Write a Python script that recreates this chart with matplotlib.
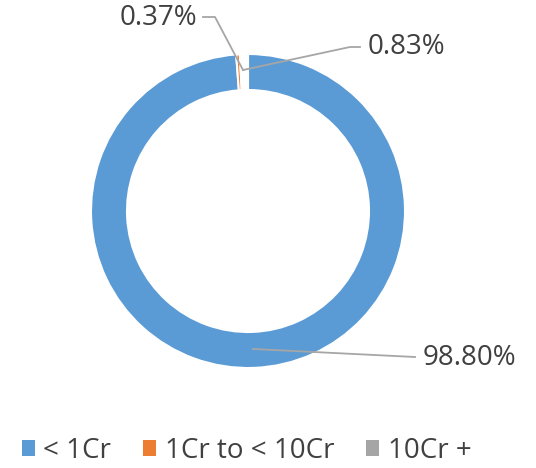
import matplotlib
matplotlib.use("Agg")
import matplotlib.pyplot as plt
from matplotlib.patches import Patch
import numpy as np

categories = ["< 1Cr", "1Cr to < 10Cr", "10Cr +"]
values = [98.80, 0.37, 0.83]
labels = ["98.80%", "0.37%", "0.83%"]
legend_colors = ["#5B9BD5", "#ED7D31", "#A5A5A5"]
slice_colors = ["#5B9BD5", "#ED7D31", "#FFFFFF"]

W, H = 536, 468
fig = plt.figure(figsize=(W / 100, H / 100), dpi=100)
ax = fig.add_axes([0, 0, 1, 1])

cx, cy, R = 248, H - 211, 157
wedges, _ = ax.pie(values, colors=slice_colors, startangle=90, counterclock=False,
                   radius=R, center=(cx, cy), frame=True,
                   wedgeprops=dict(width=36, edgecolor="white", linewidth=1.5))
ax.set_xlim(0, W)
ax.set_ylim(0, H)
ax.axis("off")

font = "Open Sans"
tc = "#404040"
lc = "#A6A6A6"
fs = 20

# 98.80% label
ax.plot([253, 415], [H - 349, H - 357], color=lc, lw=1.3)
ax.text(423, H - 358, labels[0], fontsize=fs, color=tc, family=font, va="center", ha="left")

# 0.37% label
px, py = 243, H - 70
ax.plot([px, 215, 203], [py, H - 17, H - 17], color=lc, lw=1.3)
ax.text(197, H - 18, labels[1], fontsize=fs, color=tc, family=font, va="center", ha="right")

# 0.83% label
ax.plot([px, 350, 360], [py, H - 47, H - 47], color=lc, lw=1.3)
ax.text(368, H - 47, labels[2], fontsize=fs, color=tc, family=font, va="center", ha="left")

handles = [Patch(facecolor=c, edgecolor="none") for c in legend_colors]
leg = fig.legend(handles, categories, loc="center", bbox_to_anchor=(0.46, 1 - 451 / H),
                 ncol=3, frameon=False, handlelength=0.48, handleheight=0.48,
                 handletextpad=0.3, columnspacing=1.15,
                 prop={"family": font, "size": fs})
for t in leg.get_texts():
    t.set_color(tc)

fig.savefig("out.png", dpi=100)
